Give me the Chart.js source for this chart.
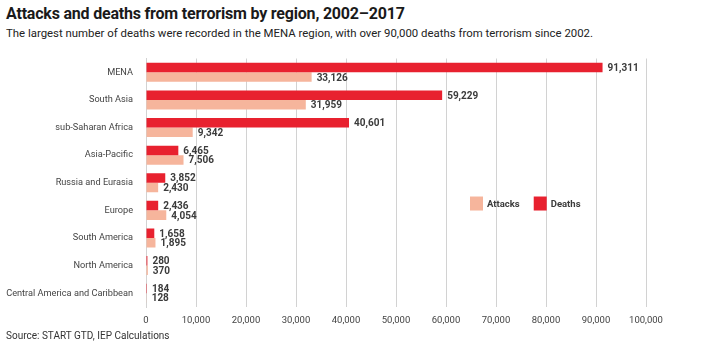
<!DOCTYPE html>
<html>
<head>
<meta charset="utf-8">
<script src="https://cdn.jsdelivr.net/npm/chart.js@4"></script>
<style>
  body { margin: 0; background: #fff; font-family: Roboto, "Liberation Sans", sans-serif; }
  .wrap { position: relative; width: 708px; height: 351px; overflow: hidden; }
  .title { position: absolute; left: 6px; top: 4px; font-size: 16px; font-weight: 700; color: #1a1a1a; letter-spacing: -0.2px; }
  .subtitle { position: absolute; left: 6px; top: 26px; font-size: 11.4px; color: #222; }
  .source { position: absolute; left: 6px; top: 330px; font-size: 10px; color: #333; }
  .chartBox { position: absolute; left: 0; top: 40px; width: 708px; height: 300px; }
</style>
</head>
<body>
<div class="wrap">
  <div class="title">Attacks and deaths from terrorism by region, 2002–2017</div>
  <div class="subtitle">The largest number of deaths were recorded in the MENA region, with over 90,000 deaths from terrorism since 2002.</div>
  <div class="chartBox"><canvas id="barChart"></canvas></div>
  <div class="source">Source: START GTD, IEP Calculations</div>
</div>
<script>
// data
const regions = ['MENA', 'South Asia', 'sub-Saharan Africa', 'Asia-Pacific', 'Russia and Eurasia',
    'Europe', 'South America', 'North America', 'Central America and Caribbean'];
const deaths = [91311, 59229, 40601, 6465, 3852, 2436, 1658, 280, 184];
const attacks = [33126, 31959, 9342, 7506, 2430, 4054, 1895, 370, 128];
const xTicks = [0, 10000, 20000, 30000, 40000, 50000, 60000, 70000, 80000, 90000, 100000];

const deathsColor = '#e8212f';
const attacksColor = '#f6b59c';

// numbers at the end of each bar
const barLabels = {
    id: 'barLabels',
    afterDatasetsDraw(chart) {
        const ctx = chart.ctx;
        ctx.save();
        ctx.font = 'bold 10px Roboto, "Liberation Sans", sans-serif';
        ctx.fillStyle = '#3b3b3b';
        ctx.textAlign = 'left';
        ctx.textBaseline = 'middle';
        chart.data.datasets.forEach((ds, i) => {
            chart.getDatasetMeta(i).data.forEach((bar, j) => {
                ctx.fillText(ds.data[j].toLocaleString('en-US'), bar.x + 5, bar.y + 1);
            });
        });
        ctx.restore();
    }
};

// legend sits inside the plot, attacks first
const innerLegend = {
    id: 'innerLegend',
    afterDraw(chart) {
        const ctx = chart.ctx;
        const area = chart.chartArea;
        let x = area.left + (area.right - area.left) * 0.648;
        const y = area.top + 145;
        ctx.save();
        ctx.font = 'bold 9.5px Roboto, "Liberation Sans", sans-serif';
        ctx.textBaseline = 'middle';
        ctx.textAlign = 'left';
        [1, 0].forEach(i => {
            const ds = chart.data.datasets[i];
            ctx.fillStyle = ds.backgroundColor;
            ctx.fillRect(x, y - 7, 13, 14);
            ctx.fillStyle = '#3b3b3b';
            ctx.fillText(ds.label, x + 17, y + 1);
            x += 17 + ctx.measureText(ds.label).width + 14;
        });
        ctx.restore();
    }
};

new Chart(document.getElementById('barChart'), {
    type: 'bar',
    data: {
        labels: regions,
        datasets: [
            { label: 'Deaths', data: deaths, backgroundColor: deathsColor, barPercentage: 1, categoryPercentage: 0.69 },
            { label: 'Attacks', data: attacks, backgroundColor: attacksColor, barPercentage: 1, categoryPercentage: 0.69 }
        ]
    },
    options: {
        indexAxis: 'y',
        responsive: true,
        maintainAspectRatio: false,
        animation: false,
        layout: { padding: { top: 6, right: 62, left: 0, bottom: 0 } },
        plugins: {
            legend: { display: false },
            tooltip: { enabled: false }
        },
        scales: {
            x: {
                min: 0,
                max: 100000,
                afterBuildTicks: (scale) => { scale.ticks = xTicks.map(v => ({ value: v })); },
                afterFit: (scale) => { scale.height = 33; },
                grid: { color: '#d2d2d2', drawTicks: false },
                border: { display: false },
                ticks: {
                    padding: 8,
                    color: '#444',
                    font: { size: 9.5, family: 'Roboto, "Liberation Sans", sans-serif' },
                    callback: (v) => v.toLocaleString('en-US')
                }
            },
            y: {
                afterFit: (scale) => { scale.width = 146; },
                grid: { display: false, drawTicks: false },
                border: { color: '#d2d2d2' },
                ticks: {
                    padding: 13,
                    color: '#444',
                    font: { size: 9.2, family: 'Roboto, "Liberation Sans", sans-serif' }
                }
            }
        }
    },
    plugins: [barLabels, innerLegend]
});
</script>
</body>
</html>
